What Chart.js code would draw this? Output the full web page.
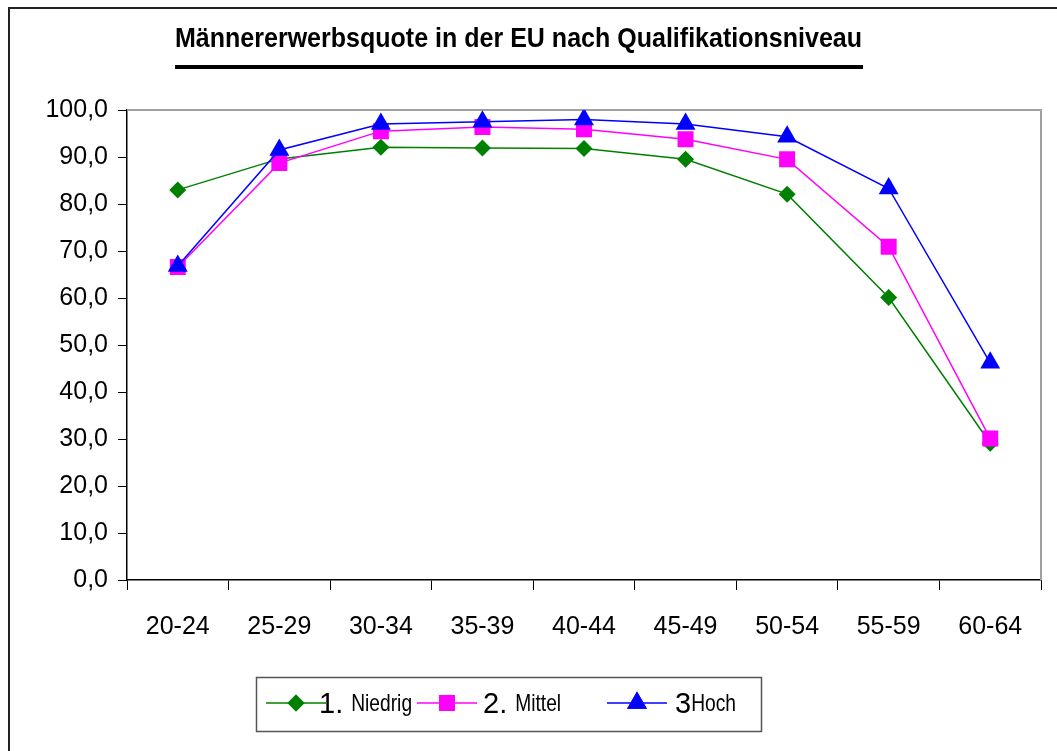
<!DOCTYPE html>
<html>
<head>
<meta charset="utf-8">
<script src="https://cdn.jsdelivr.net/npm/chart.js@4.4.1/dist/chart.umd.min.js"></script>
<style>
  html, body { margin: 0; padding: 0; background: #fff; }
  canvas { display: block; }
</style>
</head>
<body>
<canvas id="chart" width="1057" height="751"></canvas>
<script>
const TITLE = 'Männererwerbsquote in der EU nach Qualifikationsniveau';
const AGE_GROUPS = ['20-24', '25-29', '30-34', '35-39', '40-44', '45-49', '50-54', '55-59', '60-64'];
const SERIES_LABELS = ['1. Niedrig', '2. Mittel', '3Hoch'];
const NIEDRIG = [83.0, 89.6, 92.1, 91.9, 91.8, 89.5, 82.1, 60.1, 29.1];
const MITTEL = [66.6, 88.7, 95.5, 96.4, 95.9, 93.8, 89.5, 70.9, 30.1];
const HOCH = [66.8, 91.5, 97.0, 97.5, 98.0, 97.0, 94.3, 83.3, 46.2];
const Y_MIN = 0, Y_MAX = 100, Y_STEP = 10;

const FONT = '"Liberation Sans", Arial, sans-serif';

// draws a text squeezed horizontally (narrow look)
function narrowText(ctx, text, x, y, sx) {
  ctx.save();
  ctx.translate(x, y);
  ctx.scale(sx, 1);
  ctx.fillText(text, 0, 0);
  ctx.restore();
  return ctx.measureText(text).width * sx;
}

const frame = {
  id: 'frame',
  beforeDraw(chart) {
    const { ctx, width, height } = chart;
    ctx.save();
    ctx.fillStyle = '#fff';
    ctx.fillRect(0, 0, width, height);
    ctx.strokeStyle = '#222';
    ctx.lineWidth = 2;
    ctx.strokeRect(9, 8, width + 20, height + 20);

    // title, bold narrow, fitted to the underline
    ctx.fillStyle = '#000';
    ctx.font = 'bold 27px ' + FONT;
    ctx.textBaseline = 'alphabetic';
    const w = ctx.measureText(TITLE).width;
    narrowText(ctx, TITLE, 175, 47, 687 / w);
    ctx.fillRect(175, 65, 688, 4);
    ctx.restore();
  },
  beforeDatasetsDraw(chart) {
    const { ctx, chartArea: a } = chart;
    ctx.save();
    ctx.strokeStyle = '#a0a0a0';
    ctx.lineWidth = 2;
    ctx.beginPath();
    ctx.moveTo(a.left, a.top);
    ctx.lineTo(a.right, a.top);
    ctx.lineTo(a.right, a.bottom);
    ctx.stroke();
    ctx.restore();
  }
};

const boxLegend = {
  id: 'boxLegend',
  afterDraw(chart, args, opts) {
    const { ctx } = chart;
    ctx.save();
    ctx.strokeStyle = '#555';
    ctx.lineWidth = 1.5;
    ctx.strokeRect(256.5, 677.5, 505, 54);
    const cy = 703;
    chart.data.datasets.forEach((ds, i) => {
      const x0 = opts.starts[i];
      ctx.strokeStyle = ds.borderColor;
      ctx.lineWidth = 1.5;
      ctx.beginPath();
      ctx.moveTo(x0, cy);
      ctx.lineTo(x0 + 60, cy);
      ctx.stroke();
      ctx.fillStyle = ds.backgroundColor;
      Chart.helpers.drawPoint(ctx, {
        pointStyle: ds.pointStyle,
        radius: ds.pointRadius,
        rotation: 0,
        borderWidth: 0
      }, x0 + 30, cy);
      ctx.fill();

      const m = ds.label.match(/^[\d.]+\s?/);
      const pre = m ? m[0] : '';
      const rest = ds.label.slice(pre.length);
      let tx = opts.textX[i];
      ctx.fillStyle = '#000';
      ctx.textBaseline = 'alphabetic';
      ctx.font = '29px ' + FONT;
      ctx.fillText(pre, tx, cy + 10);
      tx += ctx.measureText(pre).width;
      ctx.font = '24px ' + FONT;
      narrowText(ctx, rest, tx, cy + 8, 0.8);
    });
    ctx.restore();
  }
};

function series(label, data, color, style, radius, order) {
  return {
    label,
    data,
    borderColor: color,
    backgroundColor: color,
    borderWidth: 1.5,
    pointStyle: style,
    pointRadius: radius,
    pointHoverRadius: radius,
    pointBorderWidth: 0,
    tension: 0,
    fill: false,
    order
  };
}

new Chart(document.getElementById('chart').getContext('2d'), {
  type: 'line',
  data: {
    labels: AGE_GROUPS,
    datasets: [
      series(SERIES_LABELS[0], NIEDRIG, '#008000', 'rectRot', 8.5, 2),
      series(SERIES_LABELS[1], MITTEL, '#ff00ff', 'rect', 11.3, 1),
      series(SERIES_LABELS[2], HOCH, '#0000ff', 'triangle', 11.5, 0)
    ]
  },
  options: {
    responsive: false,
    animation: false,
    layout: { padding: { left: 0, top: 110, right: 16, bottom: 0 } },
    plugins: {
      legend: { display: false },
      title: { display: false },
      tooltip: { enabled: false },
      boxLegend: { starts: [266, 417, 607], textX: [319, 483, 675] }
    },
    scales: {
      x: {
        offset: true,
        grid: { offset: true, drawOnChartArea: false, color: '#000', tickLength: 10 },
        border: { color: '#000', width: 1.5 },
        ticks: { color: '#000', font: { family: FONT, size: 25 }, padding: 22, maxRotation: 0 },
        afterFit(scale) { scale.height = 171; }
      },
      y: {
        min: Y_MIN,
        max: Y_MAX,
        grid: { drawOnChartArea: false, color: '#000', tickLength: 9 },
        border: { color: '#000', width: 1.5 },
        ticks: {
          stepSize: Y_STEP,
          color: '#000',
          font: { family: FONT, size: 25 },
          padding: 10,
          callback: v => v.toFixed(1).replace('.', ',')
        },
        afterFit(scale) { scale.width = 127; }
      }
    }
  },
  plugins: [frame, boxLegend]
});
</script>
</body>
</html>
